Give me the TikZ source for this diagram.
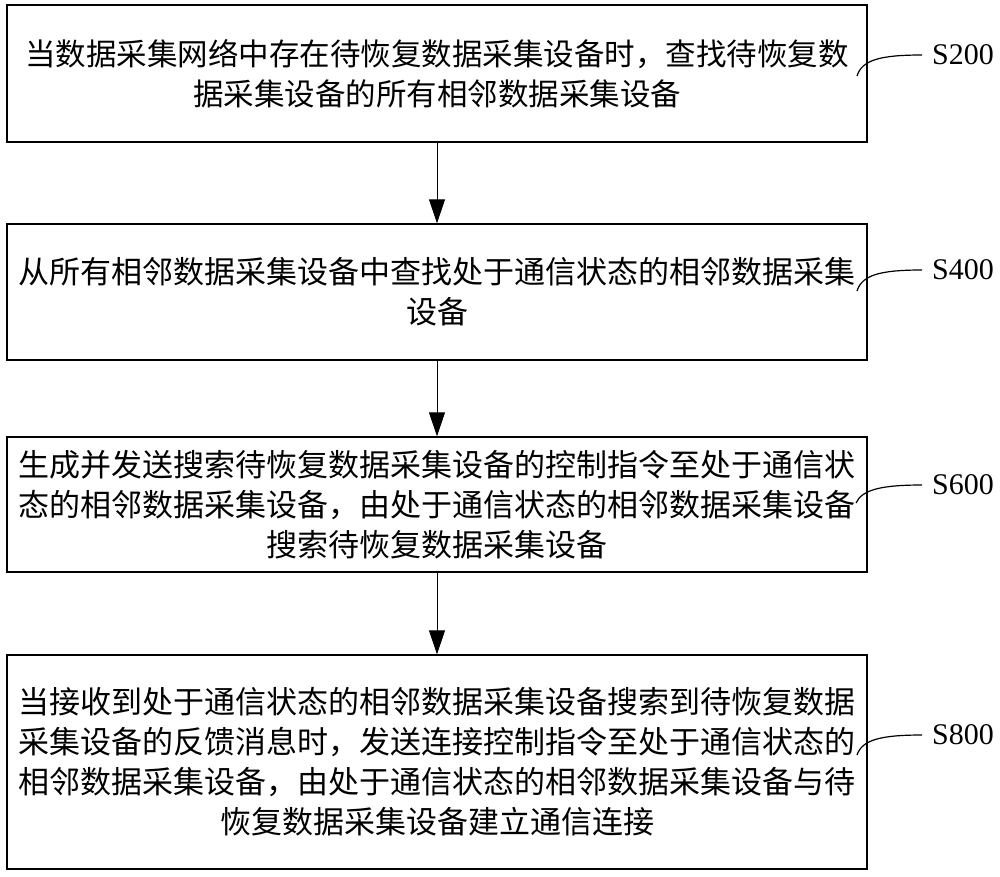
\documentclass[tikz,border=0pt]{standalone}
\usepackage{fontspec}
\setmainfont{Liberation Serif}
\newfontfamily\cjk{Noto Sans CJK SC}
\usetikzlibrary{arrows.meta}
\begin{document}
\begin{tikzpicture}[x=1pt,y=-1pt,
  stepbox/.style={draw,line width=1.4pt,rectangle,minimum width=860pt,align=center,inner sep=0pt,
    font=\cjk\fontsize{31}{40}\selectfont},
  flow/.style={line width=1pt,-{Triangle[length=24pt,width=16pt]}},
  lab/.style={font=\fontsize{30}{34}\selectfont,anchor=west,inner sep=0pt},
  tie/.style={line width=1.2pt}]
\useasboundingbox (0,0) rectangle (1000,876);
\node[stepbox,minimum height=137pt] (b1) at (437,73.5) {\raisebox{8pt}{\parbox{860pt}{\centering\fontsize{30.5}{40}\selectfont 当数据采集网络中存在待恢复数据采集设备时，查找待恢复数\\据采集设备的所有相邻数据采集设备}}};
\node[stepbox,minimum height=136pt] (b2) at (437,292) {从所有相邻数据采集设备中查找处于通信状态的相邻数据采集\\设备};
\node[stepbox,minimum height=135pt] (b3) at (437,504.5) {生成并发送搜索待恢复数据采集设备的控制指令至处于通信状\\态的相邻数据采集设备，由处于通信状态的相邻数据采集设备\\搜索待恢复数据采集设备};
\node[stepbox,minimum height=214pt] (b4) at (437,762) {当接收到处于通信状态的相邻数据采集设备搜索到待恢复数据\\采集设备的反馈消息时，发送连接控制指令至处于通信状态的\\相邻数据采集设备，由处于通信状态的相邻数据采集设备与待\\恢复数据采集设备建立通信连接};
\draw[flow] (b1) -- (b2);
\draw[flow] (b2) -- (b3);
\draw[flow] (b3) -- (b4);
\node[lab] (l1) at (932,55) {S200};
\node[lab] (l2) at (932,270) {S400};
\node[lab] (l3) at (932,485) {S600};
\node[lab] (l4) at (932,735) {S800};
\coordinate (c1) at (857,76);
\coordinate (c2) at (857,291);
\coordinate (c3) at (856,503);
\coordinate (c4) at (857,755);
\draw[tie] (c1) .. controls (862,60) and (880,55) .. ([xshift=-10pt]l1.west);
\draw[tie] (c2) .. controls (862,275) and (880,270) .. ([xshift=-10pt]l2.west);
\draw[tie] (c3) .. controls (862,490) and (880,485) .. ([xshift=-10pt]l3.west);
\draw[tie] (c4) .. controls (862,740) and (880,735) .. ([xshift=-10pt]l4.west);
\end{tikzpicture}
\end{document}
